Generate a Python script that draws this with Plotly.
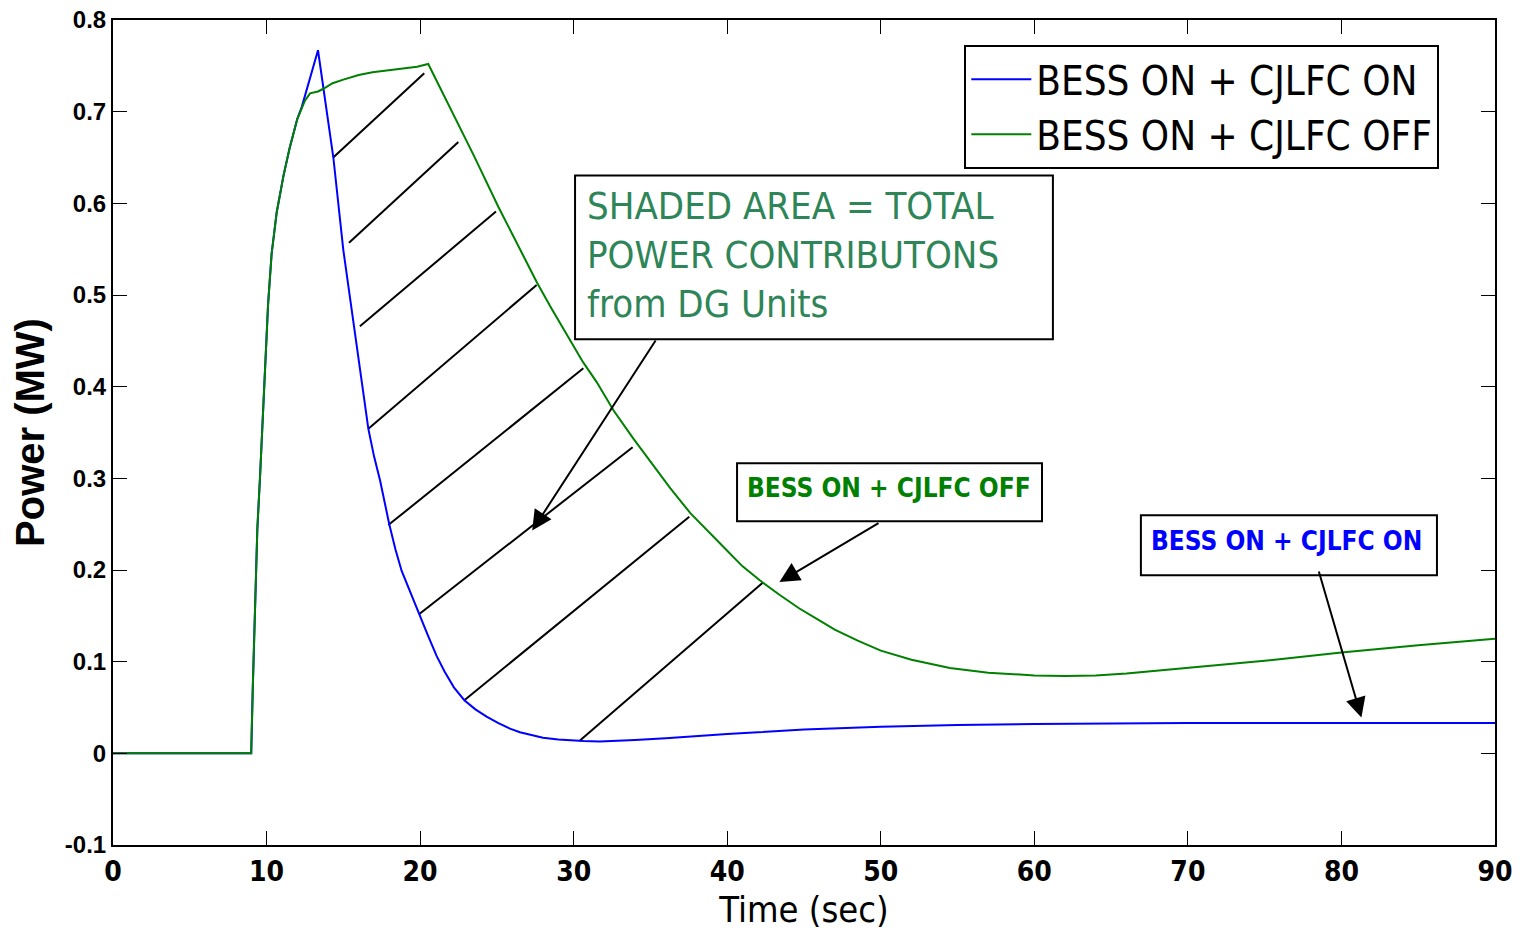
import plotly.graph_objects as go

# ---------------- data ----------------
t_on = [0, 9.0, 9.1, 9.25, 9.4, 9.57, 9.72, 9.9, 10.1, 10.33, 10.66, 11.1, 11.5, 12.0, 12.29,
        13.35, 13.7, 14.35, 15.0, 15.76, 16.15, 16.63, 17.0, 17.39, 17.99, 18.4, 18.8, 19.35, 19.95,
        20.5, 21.08, 21.6, 22.2, 22.88, 23.6, 24.33, 25.1, 25.85, 26.5, 27.16, 28.0, 29.0, 30.0,
        30.63, 31.7, 33.0, 34.0, 36.0, 38.0, 40.0, 42.0, 45.0, 50.0, 55.0, 60.0, 65.0, 70.0, 80.0, 90.0]
p_on = [0, 0, 0.07, 0.17, 0.245, 0.30, 0.355, 0.42, 0.49, 0.545, 0.59, 0.63, 0.66, 0.692, 0.705,
        0.767, 0.727, 0.650, 0.549, 0.458, 0.407, 0.354, 0.324, 0.298, 0.250, 0.222, 0.199, 0.176, 0.152,
        0.129, 0.106, 0.089, 0.072, 0.058, 0.048, 0.040, 0.033, 0.027, 0.023, 0.020, 0.017, 0.015, 0.0138,
        0.0134, 0.013, 0.0135, 0.0145, 0.0165, 0.019, 0.021, 0.023, 0.026, 0.029, 0.031, 0.032, 0.0325, 0.033, 0.033, 0.033]

t_off = [0, 9.0, 9.1, 9.25, 9.4, 9.57, 9.72, 9.9, 10.1, 10.33, 10.66, 11.1, 11.5, 12.0, 12.5,
         12.83, 13.35, 13.7, 14.3, 15.0, 16.0, 16.9, 18.0, 19.1, 19.8, 20.53, 22.0, 23.5,
         25.1, 26.5, 27.6, 28.5, 29.5, 30.6, 31.5, 32.6, 33.9, 35.0, 36.3, 37.6, 38.8, 40.0,
         41.0, 42.1, 43.4, 44.7, 46.0, 47.0, 48.5, 50.0, 52.0, 54.5, 57.0, 60.0, 62.0, 64.0,
         66.0, 68.0, 70.0, 75.0, 80.0, 85.0, 90.0]
p_off = [0, 0, 0.07, 0.17, 0.245, 0.30, 0.355, 0.42, 0.49, 0.545, 0.59, 0.63, 0.66, 0.692, 0.712,
         0.72, 0.722, 0.725, 0.731, 0.735, 0.740, 0.743, 0.745, 0.747, 0.749, 0.752, 0.703, 0.652,
         0.596, 0.550, 0.514, 0.487, 0.458, 0.427, 0.405, 0.374, 0.343, 0.318, 0.289, 0.262, 0.241, 0.221,
         0.204, 0.189, 0.173, 0.158, 0.145, 0.135, 0.123, 0.112, 0.102, 0.093, 0.088, 0.085, 0.0845, 0.085,
         0.087, 0.090, 0.093, 0.101, 0.110, 0.118, 0.125]

# hatch segments (start on lower curve, end near upper curve)
hatch_t0 = [14.34, 15.37, 16.08, 16.63, 17.93, 19.95, 22.88, 30.41]
hatch_p0 = [0.650, 0.557, 0.466, 0.354, 0.249, 0.152, 0.058, 0.014]
hatch_t1 = [20.27, 22.49, 24.94, 27.59, 30.63, 33.84, 37.53, 42.31]
hatch_p1 = [0.742, 0.667, 0.591, 0.511, 0.420, 0.334, 0.258, 0.186]

x_ticks = [0, 10, 20, 30, 40, 50, 60, 70, 80, 90]
x_ticktext = ["0", "10", "20", "30", "40", "50", "60", "70", "80", "90"]
y_ticks = [-0.1, 0, 0.1, 0.2, 0.3, 0.4, 0.5, 0.6, 0.7, 0.8]
y_ticktext = ["-0.1", "0", "0.1", "0.2", "0.3", "0.4", "0.5", "0.6", "0.7", "0.8"]

names = ["BESS ON + CJLFC ON", "BESS ON + CJLFC OFF"]
note_lines = ["SHADED AREA = TOTAL", "POWER CONTRIBUTONS", "from DG Units"]

# ---------------- figure ----------------
NARROW = "DejaVu Sans Condensed, DejaVu Sans, sans-serif"
ARIAL = "Liberation Sans, Arial, sans-serif"

hx, hy = [], []
for a, b, c, d in zip(hatch_t0, hatch_p0, hatch_t1, hatch_p1):
    hx += [a, c, None]
    hy += [b, d, None]

fig = go.Figure()
fig.add_trace(go.Scatter(x=hx, y=hy, mode="lines", line=dict(color="black", width=2),
                         showlegend=False, hoverinfo="skip"))
fig.add_trace(go.Scatter(x=t_on, y=p_on, mode="lines", name=names[0],
                         line=dict(color="#0000ff", width=2)))
fig.add_trace(go.Scatter(x=t_off, y=p_off, mode="lines", name=names[1],
                         line=dict(color="#008000", width=2)))

shapes = [
    dict(type="rect", xref="x", yref="y", x0=30.09, x1=61.21, y0=0.4516, y1=0.6305,
         line=dict(color="black", width=2), fillcolor="white", layer="above"),
    dict(type="rect", xref="x", yref="y", x0=40.64, x1=60.50, y0=0.2531, y1=0.3164,
         line=dict(color="black", width=2), fillcolor="white", layer="above"),
    dict(type="rect", xref="x", yref="y", x0=66.94, x1=86.22, y0=0.1942, y1=0.2596,
         line=dict(color="black", width=2), fillcolor="white", layer="above"),
]

annotations = []
for line, yv in zip(note_lines, [0.5976, 0.5431, 0.4907]):
    annotations.append(dict(x=30.74, y=yv, xref="x", yref="y", text=line, showarrow=False,
                            xanchor="left", yanchor="middle",
                            font=dict(family=NARROW, size=38, color="#2e8557")))
annotations.append(dict(x=50.53, y=0.289, xref="x", yref="y", text=names[1], showarrow=False,
                        font=dict(family=NARROW, size=26, color="#008000", weight="bold")))
annotations.append(dict(x=76.45, y=0.232, xref="x", yref="y", text=names[0], showarrow=False,
                        font=dict(family=NARROW, size=26, color="#0000ff", weight="bold")))

arrows = [((35.4, 0.452), (27.3, 0.243)),
          ((49.95, 0.252), (43.4, 0.187)),
          ((78.5, 0.200), (81.3, 0.039))]
for (tx, ty), (hx_, hy_) in arrows:
    annotations.append(dict(x=hx_, y=hy_, ax=tx, ay=ty, xref="x", yref="y", axref="x", ayref="y",
                            text="", showarrow=True, arrowhead=2, arrowsize=2, arrowwidth=2,
                            arrowcolor="black", standoff=0, startstandoff=0))

fig.update_layout(
    width=1520, height=935,
    margin=dict(l=113, r=25, t=20, b=90, autoexpand=False),
    paper_bgcolor="white", plot_bgcolor="white",
    shapes=shapes, annotations=annotations,
    showlegend=True,
    legend=dict(x=0.616, y=0.97, xanchor="left", yanchor="top",
                bgcolor="white", bordercolor="black", borderwidth=2,
                font=dict(family=NARROW, size=40, color="black"),
                itemwidth=60, tracegroupgap=0),
    xaxis=dict(range=[0, 90], tickvals=x_ticks, ticktext=x_ticktext, automargin=False,
               ticks="inside", ticklen=14, tickwidth=1, tickcolor="black",
               showline=True, linecolor="black", linewidth=2, mirror="allticks",
               showgrid=False, zeroline=False,
               tickfont=dict(family=NARROW, size=28, color="black", weight="bold"),
               title=dict(text="Time (sec)", font=dict(family=NARROW, size=36, color="black"),
                          standoff=10)),
    yaxis=dict(range=[-0.1, 0.8], tickvals=y_ticks, ticktext=y_ticktext, automargin=False,
               ticks="inside", ticklen=14, tickwidth=1, tickcolor="black",
               showline=True, linecolor="black", linewidth=2, mirror="allticks",
               showgrid=False, zeroline=False,
               tickfont=dict(family=ARIAL, size=24, color="black", weight="bold"),
               title=dict(text="Power (MW)", font=dict(family=ARIAL, size=40, color="black", weight="bold"),
                          standoff=8)),
)

fig.write_html("out.html")
